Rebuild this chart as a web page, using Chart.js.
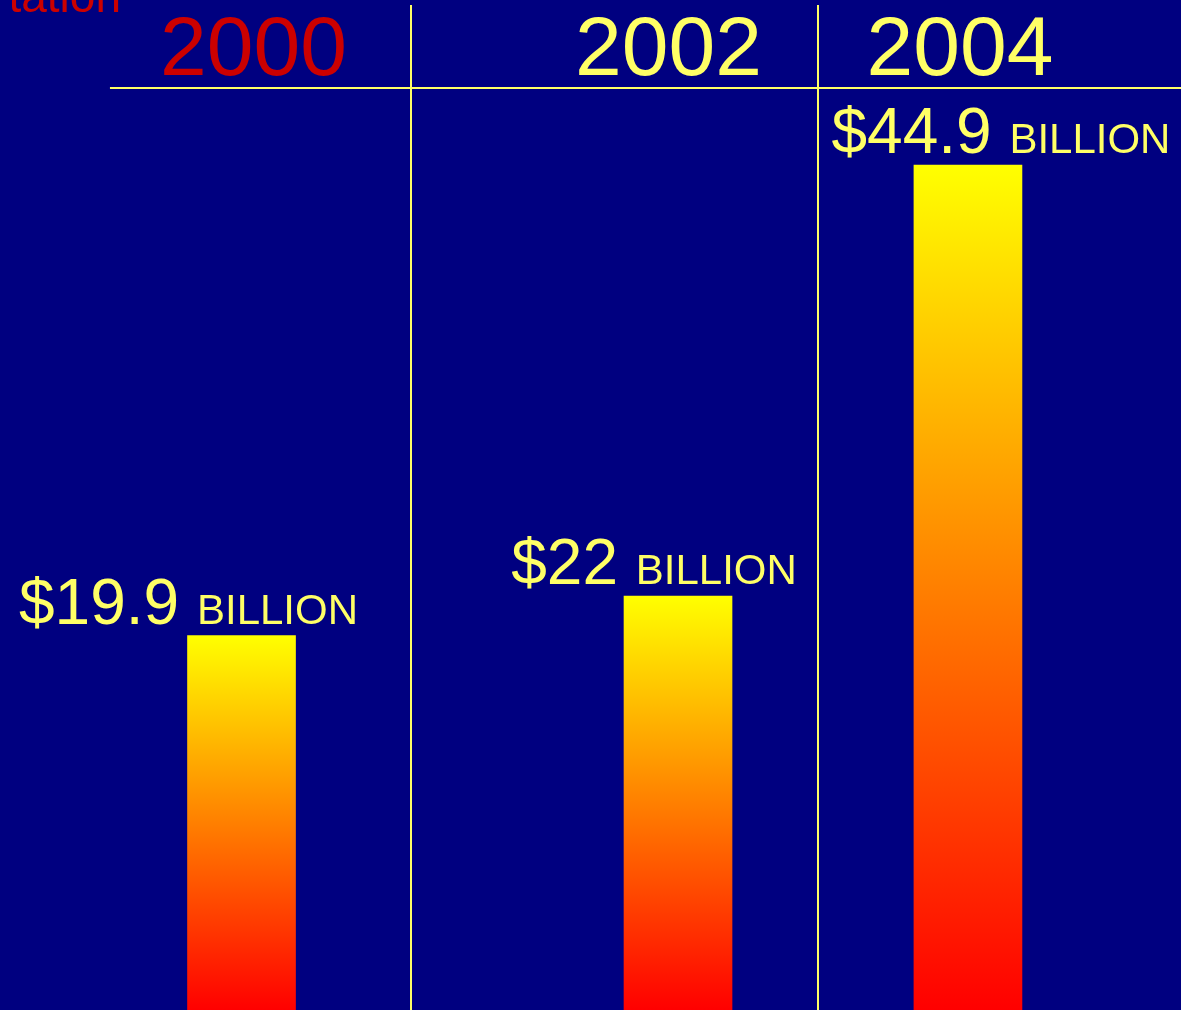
<!DOCTYPE html>
<html>
<head>
<meta charset="utf-8">
<script src="https://cdn.jsdelivr.net/npm/chart.js@4.4.0/dist/chart.umd.min.js"></script>
<style>
  html, body { margin: 0; padding: 0; background: #000080; overflow: hidden; }
  canvas { display: block; }
</style>
</head>
<body>
<canvas id="chart" width="1181" height="1010"></canvas>
<script>
const years = ["2000", "2002", "2004"];
const spending = [19.9, 22, 44.9];   // $ billion
const unitLabel = "BILLION";
const headerText = "tation";

// layout (x in percent of the page width)
const barSlot = [20.45, 57.41, 81.96];
const yearSlot = [21.46, 56.6, 81.29];
const ruleSlot = [34.8, 69.26];
const ruleStart = 9.31;
const labelShift = [-53, -24, 33];
const yearColors = ["#cc0000", "#ffff66", "#ffff66"];

const YELLOW = "#ffff66";
const FONT = "'Liberation Sans', Arial, sans-serif";

const ctx = document.getElementById("chart").getContext("2d");

function barFill(c) {
  const chart = c.chart;
  if (!chart.chartArea || !c.parsed) return "#ff0000";
  const ys = chart.scales.y;
  const top = ys.getPixelForValue(c.parsed.y);
  const bottom = ys.getPixelForValue(0);
  const g = chart.ctx.createLinearGradient(0, top, 0, bottom);
  g.addColorStop(0, "#ffff00");
  g.addColorStop(1, "#ff0000");
  return g;
}

// header rules, year headings and the value captions
const slideDecor = {
  id: "slideDecor",
  afterDraw(chart) {
    const c = chart.ctx;
    const xs = chart.scales.x;
    const ys = chart.scales.y;
    const area = chart.chartArea;
    c.save();

    c.fillStyle = "#cc0000";
    c.font = "46px " + FONT;
    c.textAlign = "right";
    c.textBaseline = "alphabetic";
    c.fillText(headerText, 121, 12);

    c.strokeStyle = YELLOW;
    c.lineWidth = 2;
    c.beginPath();
    c.moveTo(xs.getPixelForValue(ruleStart), area.top);
    c.lineTo(area.right, area.top);
    ruleSlot.forEach(r => {
      const x = Math.round(xs.getPixelForValue(r));
      c.moveTo(x, 5);
      c.lineTo(x, area.bottom);
    });
    c.stroke();

    c.textAlign = "center";
    c.font = "84px " + FONT;
    years.forEach((yr, i) => {
      c.fillStyle = yearColors[i];
      c.fillText(yr, xs.getPixelForValue(yearSlot[i]), 75);
    });

    c.textAlign = "left";
    c.fillStyle = YELLOW;
    spending.forEach((v, i) => {
      const amount = "$" + v;
      const bx = xs.getPixelForValue(barSlot[i]);
      const by = ys.getPixelForValue(v) - 12;
      c.font = "64px " + FONT;
      const w1 = c.measureText(amount + " ").width;
      c.font = "42px " + FONT;
      const w2 = c.measureText(unitLabel).width;
      const left = bx + labelShift[i] - (w1 + w2) / 2;
      c.font = "64px " + FONT;
      c.fillText(amount, left, by);
      c.font = "42px " + FONT;
      c.fillText(unitLabel, left + w1, by);
    });

    c.restore();
  }
};

const chart = new Chart(ctx, {
  type: "bar",
  data: {
    datasets: [{
      data: spending.map((v, i) => ({ x: barSlot[i], y: v })),
      backgroundColor: barFill,
      borderWidth: 0,
      barThickness: 108
    }]
  },
  options: {
    responsive: false,
    animation: false,
    layout: { padding: { top: 88, left: 0, right: 0, bottom: 0 } },
    plugins: {
      legend: { display: false },
      tooltip: { enabled: false }
    },
    scales: {
      x: { type: "linear", min: 0, max: 100, display: false, offset: false },
      y: { min: 0, max: 49, display: false }
    }
  },
  plugins: [slideDecor]
});
</script>
</body>
</html>
